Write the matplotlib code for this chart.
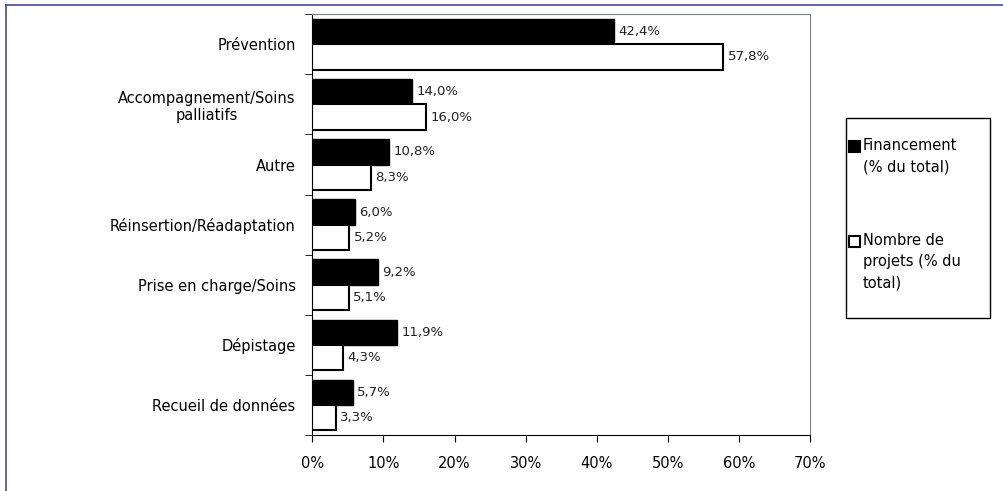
import matplotlib.pyplot as plt
from matplotlib.patches import Rectangle
import numpy as np

categories = ['Prévention', 'Accompagnement/Soins\npalliatifs', 'Autre',
              'Réinsertion/Réadaptation', 'Prise en charge/Soins',
              'Dépistage', 'Recueil de données']
financement = [42.4, 14.0, 10.8, 6.0, 9.2, 11.9, 5.7]
projets = [57.8, 16.0, 8.3, 5.2, 5.1, 4.3, 3.3]
xticks = [0, 10, 20, 30, 40, 50, 60, 70]
series_labels = ['Financement\n(% du total)', 'Nombre de\nprojets (% du\ntotal)']

plt.rcParams['font.family'] = ['DejaVu Sans']

W, H = 1004, 491
fig = plt.figure(figsize=(W / 100, H / 100), dpi=100)
ax = fig.add_axes([0.311, 0.114, 0.496, 0.857])

y = np.arange(len(categories))
h = 0.42
ax.barh(y - h / 2, financement, height=h, color='black', edgecolor='black')
ax.barh(y + h / 2, projets, height=h, color='white', edgecolor='black', linewidth=1.5)

for yy, v in zip(y - h / 2, financement):
    ax.text(v + 0.6, yy, f'{v:.1f}%'.replace('.', ','), va='center', fontsize=9.5, color='#222222')
for yy, v in zip(y + h / 2, projets):
    ax.text(v + 0.6, yy, f'{v:.1f}%'.replace('.', ','), va='center', fontsize=9.5, color='#222222')

ax.set_xlim(0, 70)
ax.set_ylim(len(categories) - 0.5, -0.5)
ax.set_xticks(xticks)
ax.set_xticklabels([f'{t}%' for t in xticks], fontsize=10.5)
ax.set_yticks(y)
ax.set_yticklabels(categories, fontsize=10.5, multialignment='center')
ax.set_yticks(np.arange(len(categories) + 1) - 0.5, minor=True)
ax.tick_params(axis='y', which='major', length=0, pad=12)
ax.tick_params(axis='y', which='minor', length=5, color='black')
ax.tick_params(axis='x', length=5, pad=10, color='black')
for s in ax.spines.values():
    s.set_color('#808080')
ax.spines['left'].set_color('black')
ax.spines['bottom'].set_color('black')

# legend drawn by hand (handle aligned with first text line)
def px(x, yy):
    return x / W, 1 - yy / H

lx0, ly0 = px(846, 318)
lx1, ly1 = px(990, 118)
fig.add_artist(Rectangle((lx0, ly0), lx1 - lx0, ly1 - ly0, transform=fig.transFigure,
                         facecolor='white', edgecolor='black', lw=1.0))
fills = ['black', 'white']
tops = [146, 241]
for lab, fc, ty in zip(series_labels, fills, tops):
    hx, hy = px(849, ty + 6)
    fig.add_artist(Rectangle((hx, hy), 11 / W, 11 / H, transform=fig.transFigure,
                             facecolor=fc, edgecolor='black', lw=1.5))
    tx, tyf = px(863, ty - 8)
    fig.text(tx, tyf, lab, fontsize=10.5, va='top', ha='left', linespacing=1.5)

# outer blue border lines
fig.add_artist(plt.Line2D([0.006, 1.0], [0.99, 0.99], color='#4848a8', lw=1.2, transform=fig.transFigure))
fig.add_artist(plt.Line2D([0.006, 0.006], [0.0, 0.99], color='#4848a8', lw=1.2, transform=fig.transFigure))

fig.savefig('out.png', dpi=100)
